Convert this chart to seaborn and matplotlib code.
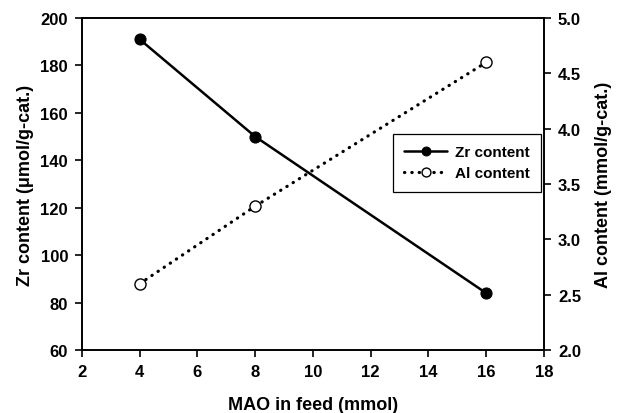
import pandas as pd
import matplotlib
matplotlib.use("Agg")
import matplotlib.pyplot as plt
import seaborn as sns

# data
mao_feed = [4, 8, 16]
zr_content = [191, 150, 84]       # umol/g-cat.
al_content = [2.6, 3.3, 4.6]      # mmol/g-cat.

x_ticks = [2, 4, 6, 8, 10, 12, 14, 16, 18]
zr_ticks = [60, 80, 100, 120, 140, 160, 180, 200]
al_ticks = [2.0, 2.5, 3.0, 3.5, 4.0, 4.5, 5.0]

df = pd.DataFrame({"mao": mao_feed, "zr": zr_content, "al": al_content})

sns.set_style("white")
plt.rcParams["font.family"] = ["Liberation Sans", "DejaVu Sans"]
plt.rcParams["font.weight"] = "bold"
plt.rcParams["text.color"] = "black"
plt.rcParams["axes.labelcolor"] = "black"
plt.rcParams["xtick.color"] = "black"
plt.rcParams["ytick.color"] = "black"

fig = plt.figure(figsize=(6.21, 4.14), dpi=100)
ax = fig.add_axes([0.132, 0.152, 0.744, 0.802])
ax2 = ax.twinx()

# Zr content, solid line with filled circles
sns.lineplot(data=df, x="mao", y="zr", ax=ax, color="black", linewidth=1.8,
             marker="o", markersize=8, markerfacecolor="black",
             markeredgecolor="black", label="Zr content", legend=False)

# Al content, dotted line with open circles
sns.lineplot(data=df, x="mao", y="al", ax=ax2, color="black", linewidth=2.3,
             linestyle=(0, (0.1, 2.2)), dash_capstyle="round",
             marker="o", markersize=8, markerfacecolor="white",
             markeredgecolor="black", markeredgewidth=1.0,
             label="Al content", legend=False)

ax.set_xlim(2, 18)
ax.set_ylim(60, 200)
ax2.set_ylim(2.0, 5.0)
ax.set_xticks(x_ticks)
ax.set_yticks(zr_ticks)
ax2.set_yticks(al_ticks)
ax.set_yticklabels([str(t) for t in zr_ticks])
ax2.set_yticklabels([f"{t:.1f}" for t in al_ticks])

ax.set_xlabel("MAO in feed (mmol)", fontsize=13, fontweight="bold", labelpad=12)
ax.set_ylabel("Zr content (\u03bcmol/g-cat.)", fontsize=13, fontweight="bold", labelpad=5)
ax2.set_ylabel("Al content (mmol/g-cat.)", fontsize=13, fontweight="bold", labelpad=10)

for a in (ax, ax2):
    for s in a.spines.values():
        s.set_color("black")
        s.set_linewidth(1.2)
    a.tick_params(direction="out", length=5, width=1.2, color="black",
                  labelsize=12, pad=5)
ax.tick_params(axis="y", right=False, left=True)
ax.tick_params(axis="x", bottom=True, top=False)
ax2.tick_params(axis="y", right=True, left=False)
for lbl in ax.get_xticklabels() + ax.get_yticklabels() + ax2.get_yticklabels():
    lbl.set_fontweight("bold")

h1, l1 = ax.get_legend_handles_labels()
h2, l2 = ax2.get_legend_handles_labels()
leg = ax2.legend(h1 + h2, l1 + l2, loc="upper left", bbox_to_anchor=(0.673, 0.651),
                 frameon=True, fancybox=False, edgecolor="black", framealpha=1,
                 prop={"weight": "bold", "size": 11}, handlelength=2.8,
                 markerscale=0.8, borderpad=0.75, labelspacing=0.45,
                 handletextpad=0.5, borderaxespad=0)
leg.get_frame().set_linewidth(0.9)

fig.savefig("out.png", dpi=100)
